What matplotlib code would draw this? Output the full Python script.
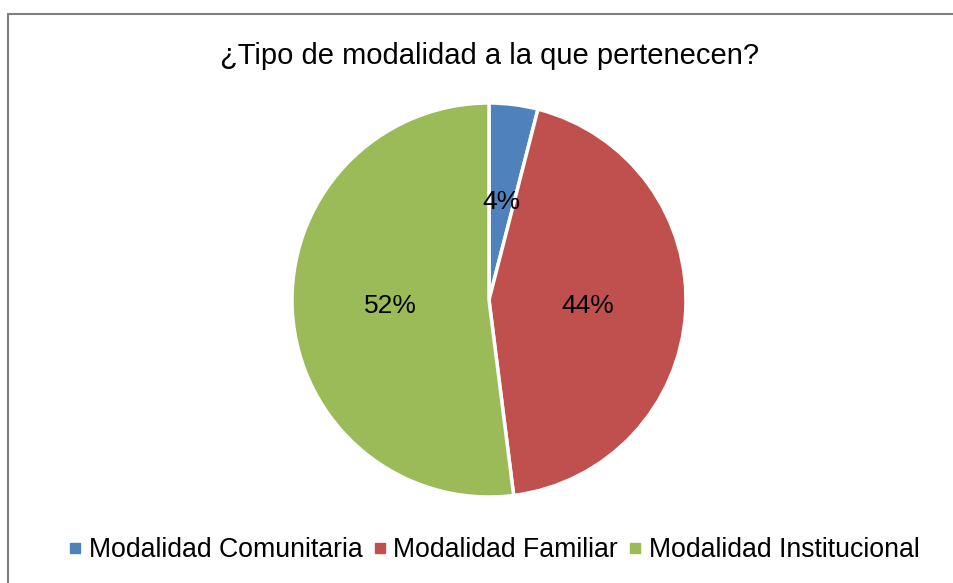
import matplotlib.pyplot as plt
from matplotlib.lines import Line2D
from matplotlib.patches import Rectangle

plt.rcParams['font.family'] = ['Liberation Sans', 'DejaVu Sans']

categories = ["Modalidad Comunitaria", "Modalidad Familiar", "Modalidad Institucional"]
values = [4, 44, 52]
colors = ["#4F81BD", "#C0504D", "#9BBB59"]
title = "¿Tipo de modalidad a la que pertenecen?"

fig = plt.figure(figsize=(9.54, 5.83), dpi=100)

# chart border (only top/left visible in the reference)
fig.patches.append(Rectangle((8.5 / 954, -0.1), 1.2, 1 - 14.5 / 583 + 0.1,
                             transform=fig.transFigure, fill=False,
                             edgecolor="#808080", linewidth=1.5))

ax = fig.add_axes([292 / 954, 86 / 583, 394 / 954, 394 / 583])
wedges, texts, autotexts = ax.pie(values, colors=colors, startangle=90, counterclock=False,
                                  autopct="%1.0f%%", pctdistance=0.5,
                                  wedgeprops=dict(edgecolor="white", linewidth=2.5),
                                  textprops=dict(fontsize=19, color="black"))
ax.set_xlim(-1, 1)
ax.set_ylim(-1, 1)
ax.set_aspect("equal")

fig.text(490 / 954, 1 - 56 / 583, title, ha="center", va="center", fontsize=21)

handles = [Line2D([], [], marker="s", linestyle="None", markersize=7,
                  markerfacecolor=c, markeredgecolor=c) for c in colors]
fig.legend(handles, categories, loc="center", bbox_to_anchor=(494 / 954, 1 - 550 / 583),
           ncol=3, frameon=False, fontsize=19.2, handlelength=0.5, handletextpad=0.25,
           columnspacing=0.4)

fig.savefig("out.png", dpi=100)
